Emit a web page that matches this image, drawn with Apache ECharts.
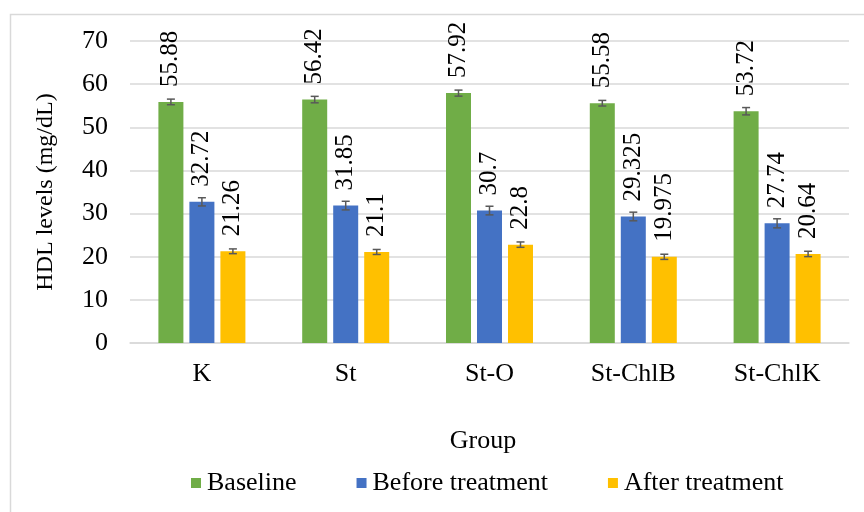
<!DOCTYPE html>
<html>
<head>
<meta charset="utf-8">
<script src="https://cdn.jsdelivr.net/npm/echarts@6/dist/echarts.min.js"></script>
<style>html,body{margin:0;padding:0;background:#fff}#c{width:864px;height:512px}</style>
</head>
<body>
<div id="c"></div>
<script>
var categories = ['K', 'St', 'St-O', 'St-ChlB', 'St-ChlK'];
var baseline = [55.88, 56.42, 57.92, 55.58, 53.72];
var beforeTreatment = [32.72, 31.85, 30.7, 29.325, 27.74];
var afterTreatment = [21.26, 21.1, 22.8, 19.975, 20.64];
var baselineErr = [0.65, 0.75, 0.7, 0.65, 0.85];
var beforeErr = [0.95, 1.0, 1.0, 1.0, 1.05];
var afterErr = [0.55, 0.58, 0.62, 0.6, 0.62];
var yTicks = [0, 10, 20, 30, 40, 50, 60, 70];
var seriesNames = ['Baseline', 'Before treatment', 'After treatment'];
var colors = ['#70AD47', '#4472C4', '#FFC000'];

var FONT = '"Liberation Serif", "Times New Roman", serif';
var FS = 25;
var CAT_GAP = 0.395, BAR_GAP = 0.24;

var chart = echarts.init(document.getElementById('c'), null, {renderer: 'canvas'});

function barSeries(name, data, color) {
  return {
    name: name, type: 'bar', data: data,
    barGap: (BAR_GAP * 100) + '%', barCategoryGap: (CAT_GAP * 100) + '%',
    itemStyle: {color: color},
    label: {
      show: true, position: 'top', rotate: 90, distance: 15,
      align: 'left', verticalAlign: 'middle',
      fontFamily: FONT, fontSize: FS, color: '#000'
    },
    z: 2
  };
}

function errSeries(idx, vals, errs) {
  var data = vals.map(function (v, i) { return [i, v, errs[i]]; });
  return {
    type: 'custom', name: seriesNames[idx] + ' err',
    data: data, encode: {x: 0, y: 1}, z: 5, silent: true,
    renderItem: function (params, api) {
      var ci = api.value(0), v = api.value(1), e = api.value(2);
      var bw = api.size([1, 0])[0];
      var groupW = bw * (1 - CAT_GAP);
      var barW = groupW / (3 + 2 * BAR_GAP);
      var off = (idx - 1) * barW * (1 + BAR_GAP);
      var top = api.coord([ci, v + e]);
      var bot = api.coord([ci, v - e]);
      var x = top[0] + off;
      var cap = 4;
      var st = {stroke: '#595959', lineWidth: 1.5};
      return {
        type: 'group', children: [
          {type: 'line', shape: {x1: x, y1: top[1], x2: x, y2: bot[1]}, style: st},
          {type: 'line', shape: {x1: x - cap, y1: top[1], x2: x + cap, y2: top[1]}, style: st},
          {type: 'line', shape: {x1: x - cap, y1: bot[1], x2: x + cap, y2: bot[1]}, style: st}
        ]
      };
    }
  };
}

var option = {
  backgroundColor: '#fff',
  animation: false,
  textStyle: {fontFamily: FONT},
  graphic: [{
    type: 'rect', left: 8, top: 12, z: -10,
    shape: {width: 900, height: 600},
    style: {fill: 'none', stroke: '#D9D9D9', lineWidth: 1.5}
  }],
  title: {
    text: 'Group', left: 478, top: 423, textAlign: 'center',
    textStyle: {fontFamily: FONT, fontSize: 26, fontWeight: 'normal', color: '#000'}
  },
  legend: {
    data: seriesNames, left: 186, top: 465, itemWidth: 10, itemHeight: 10, itemGap: 60,
    icon: 'rect',
    textStyle: {fontFamily: FONT, fontSize: 26, color: '#000', padding: [0, 0, 0, 1]}
  },
  grid: {left: 130, right: 15, top: 41, bottom: 169},
  xAxis: {
    type: 'category', data: categories,
    axisLine: {show: true, lineStyle: {color: '#D9D9D9', width: 1.5}},
    axisTick: {show: false},
    axisLabel: {fontFamily: FONT, fontSize: 26, color: '#000', margin: 18}
  },
  yAxis: {
    type: 'value', min: yTicks[0], max: yTicks[yTicks.length - 1], interval: 10,
    name: 'HDL levels (mg/dL)', nameLocation: 'middle', nameGap: 72,
    nameTextStyle: {fontFamily: FONT, fontSize: 24, color: '#000'},
    axisLine: {show: false}, axisTick: {show: false},
    splitLine: {lineStyle: {color: '#D9D9D9', width: 1.5}},
    axisLabel: {fontFamily: FONT, fontSize: 26, color: '#000', margin: 22}
  },
  series: [
    barSeries(seriesNames[0], baseline, colors[0]),
    barSeries(seriesNames[1], beforeTreatment, colors[1]),
    barSeries(seriesNames[2], afterTreatment, colors[2]),
    errSeries(0, baseline, baselineErr),
    errSeries(1, beforeTreatment, beforeErr),
    errSeries(2, afterTreatment, afterErr)
  ]
};
chart.setOption(option);
</script>
</body>
</html>
